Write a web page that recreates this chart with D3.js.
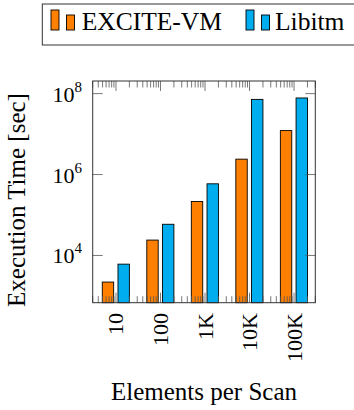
<!DOCTYPE html>
<html>
<head>
<meta charset="utf-8">
<script src="https://cdn.jsdelivr.net/npm/d3@7"></script>
<style>
  body { margin: 0; background: #fff; }
  svg { display: block; }
</style>
</head>
<body>
<div id="chart"></div>
<script>
// scans per group (x is a log axis), labels shown rotated
const scanSizes = [10, 100, 1000, 10000, 100000];
const scanLabels = ["10", "100", "1K", "10K", "100K"];
const seriesNames = ["EXCITE-VM", "Libitm"];
// execution time [sec]
const exciteVM = [2200, 24000, 215000, 2400000, 12200000];
const libitm = [6100, 59000, 590000, 72000000, 78000000];
const yTicks = [1e4, 1e6, 1e8];

const COLORS = ["#ff8000", "#00aeef"];
const FONT = "'Liberation Serif', serif";
const W = 354, HT = 410;
// plot frame in page pixels
const P = { left: 92.7, right: 315.3, top: 81, bottom: 302.7 };
const BAR_W = 11.4;
const BAR_OFF = [-8, 7.7]; // centre offset of each series from the group position

const svg = d3.select("#chart").append("svg")
  .attr("width", W).attr("height", HT)
  .attr("font-family", FONT);

const x = d3.scaleLog().domain([3, 3e5]).range([P.left, P.right]);
const y = d3.scaleLog().domain([680, 2.05e8]).range([P.bottom, P.top]);

// bars
const series = [exciteVM, libitm];
series.forEach((vals, si) => {
  svg.append("g").selectAll("rect")
    .data(vals.map((v, i) => ({ v, s: scanSizes[i] })))
    .join("rect")
    .attr("x", d => x(d.s) + BAR_OFF[si] - BAR_W / 2)
    .attr("width", BAR_W)
    .attr("y", d => y(d.v))
    .attr("height", d => P.bottom - y(d.v))
    .attr("fill", COLORS[si])
    .attr("stroke", "#000")
    .attr("stroke-width", 0.9);
});

// ticks (inside, both sides) – pgfplots style
const gT = svg.append("g").attr("stroke", "#555").attr("stroke-width", 0.8);
const majX = [10, 100, 1000, 10000, 100000];
const minX = [];
[1, 10, 100, 1000, 10000, 100000].forEach(b => {
  for (let k = 2; k <= 9; k++) {
    const v = b * k;
    if (v >= 3 && v <= 3e5) minX.push(v);
  }
});
majX.forEach(v => {
  gT.append("line").attr("x1", x(v)).attr("x2", x(v)).attr("y1", P.top).attr("y2", P.top + 10);
  gT.append("line").attr("x1", x(v)).attr("x2", x(v)).attr("y1", P.bottom).attr("y2", P.bottom - 10);
});
minX.forEach(v => {
  gT.append("line").attr("x1", x(v)).attr("x2", x(v)).attr("y1", P.top).attr("y2", P.top + 6.5);
  gT.append("line").attr("x1", x(v)).attr("x2", x(v)).attr("y1", P.bottom).attr("y2", P.bottom - 6.5);
});
yTicks.forEach(v => {
  gT.append("line").attr("x1", P.left).attr("x2", P.left + 10).attr("y1", y(v)).attr("y2", y(v));
  gT.append("line").attr("x1", P.right).attr("x2", P.right - 10).attr("y1", y(v)).attr("y2", y(v));
});

// frame
svg.append("rect")
  .attr("x", P.left).attr("y", P.top)
  .attr("width", P.right - P.left).attr("height", P.bottom - P.top)
  .attr("fill", "none").attr("stroke", "#333").attr("stroke-width", 1);

// y tick labels 10^n
yTicks.forEach(v => {
  const t = svg.append("text")
    .attr("x", 82).attr("y", y(v) + 8)
    .attr("text-anchor", "end")
    .attr("font-size", 22)
    .attr("fill", "#000");
  t.append("tspan").text("10");
  t.append("tspan").attr("dy", -10).attr("font-size", 15).text(Math.round(Math.log10(v)));
});

// x tick labels, rotated
scanSizes.forEach((s, i) => {
  svg.append("text")
    .attr("transform", `translate(${x(s) + 7.5},313) rotate(-90)`)
    .attr("text-anchor", "end")
    .attr("font-size", 22)
    .attr("fill", "#000")
    .text(scanLabels[i]);
});

// axis titles
svg.append("text")
  .attr("transform", "translate(25,200) rotate(-90)")
  .attr("text-anchor", "middle")
  .attr("font-size", 25)
  .attr("fill", "#000")
  .text("Execution Time [sec]");
svg.append("text")
  .attr("x", 204).attr("y", 400)
  .attr("text-anchor", "middle")
  .attr("font-size", 25)
  .attr("fill", "#000")
  .text("Elements per Scan");

// legend
const lg = svg.append("g");
lg.append("rect")
  .attr("x", 42.3).attr("y", 4).attr("width", 330).attr("height", 41)
  .attr("fill", "#fff").attr("stroke", "#333").attr("stroke-width", 1);
const legX = [51, 246];
const legTextX = [81.7, 275];
seriesNames.forEach((name, i) => {
  lg.append("rect").attr("x", legX[i]).attr("y", 10).attr("width", 8).attr("height", 20)
    .attr("fill", COLORS[i]).attr("stroke", "#000").attr("stroke-width", 0.9);
  lg.append("rect").attr("x", legX[i] + 15.5).attr("y", 15).attr("width", 8).attr("height", 15)
    .attr("fill", COLORS[i]).attr("stroke", "#000").attr("stroke-width", 0.9);
  lg.append("text").attr("x", legTextX[i]).attr("y", 29.5)
    .attr("font-size", 25.5)
    .attr("fill", "#000")
    .text(name);
});
</script>
</body>
</html>
